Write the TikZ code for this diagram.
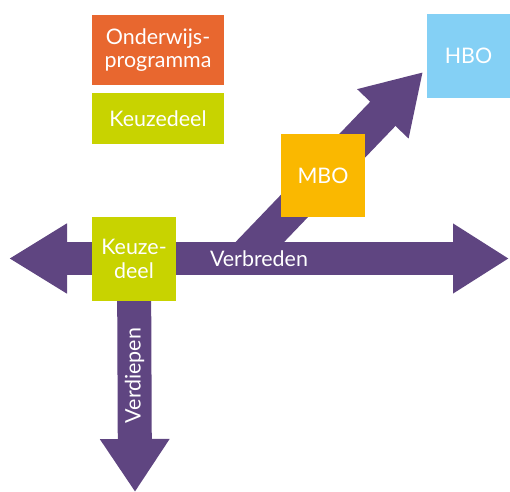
\documentclass[tikz,border=0pt]{standalone}
\usepackage{fontspec}
\setmainfont{Lato}
\usetikzlibrary{arrows.meta}
\definecolor{paars}{HTML}{5F4581}
\definecolor{oranje}{HTML}{E8672F}
\definecolor{groen}{HTML}{C8D300}
\definecolor{geel}{HTML}{FAB800}
\definecolor{blauw}{HTML}{84D0F5}

\begin{document}
\begin{tikzpicture}[x=1bp, y=-1bp,
			blok/.style={fill=#1, text=white, inner sep=0pt, align=center, font=\fontsize{21.5}{23.5}\selectfont},
			pijl/.style={draw=paars, line width=34bp},
			tekst/.style={text=white, font=\fontsize{21.5}{23.5}\selectfont}]
			\useasboundingbox (0,0) rectangle (510,492);
			\coordinate (links) at (9,258.5);
			\coordinate (rechts) at (509,258.5);
			\coordinate (onder) at (135,492);
			\coordinate (start) at (244,258.5);
			\coordinate (punt) at (423,72);
			% pijlen
			\draw[pijl, line width=35bp, -{Triangle[length=58bp,width=67bp]}] (start) -- (punt);
			\draw[pijl, line width=33bp, {Triangle[length=58bp,width=66bp]}-{Triangle[length=56bp,width=66bp]}] (links) -- (rechts)
				node[midway, tekst] {Verbreden};
			\draw[pijl, -{Triangle[length=53bp,width=66bp]}] (134,259) -- (onder)
				node[midway, tekst, rotate=90] {Verdiepen};
			% blokken
			\node[blok=oranje, minimum width=132bp, minimum height=70bp] (onderwijs) at (158,50) {Onderwijs-\\programma};
			\node[blok=groen, minimum width=132bp, minimum height=51bp] (keuzedeel) at (158,118.5) {Keuzedeel};
			\node[blok=groen, minimum size=84bp] (keuze) at (134,259) {Keuze-\\deel};
			\node[blok=geel, minimum width=84bp, minimum height=83bp] (mbo) at (323,175.5) {MBO};
			\node[blok=blauw, minimum size=84bp] (hbo) at (468.5,56) {HBO};
		\end{tikzpicture}
\end{document}
